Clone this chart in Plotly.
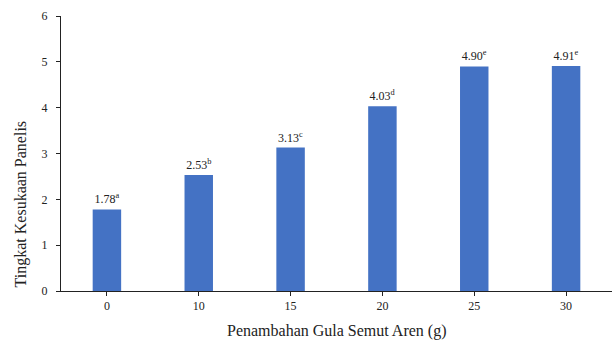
import plotly.graph_objects as go

categories = ["0", "10", "15", "20", "25", "30"]
values = [1.78, 2.53, 3.13, 4.03, 4.90, 4.91]
letters = ["a", "b", "c", "d", "e", "e"]
labels = [f"{v:.2f}<sup>{l}</sup>" for v, l in zip(values, letters)]
x_title = "Penambahan Gula Semut Aren (g)"
y_title = "Tingkat Kesukaan Panelis"

fig = go.Figure(go.Bar(
    x=categories, y=values, text=labels, textposition="outside",
    textfont=dict(family="Liberation Serif", size=12, color="#222"),
    marker=dict(color="#4472C4", line=dict(width=0)),
    width=0.31, cliponaxis=False,
))

fig.update_layout(
    width=616, height=342, margin=dict(l=61, r=4, t=16, b=51),
    paper_bgcolor="white", plot_bgcolor="white", showlegend=False,
    font=dict(family="Liberation Serif", color="#222"),
    xaxis=dict(showline=True, linecolor="#222", linewidth=1, ticks="outside",
               ticklen=4, tickcolor="#222", tickfont=dict(size=12)),
    yaxis=dict(range=[0, 6], dtick=1, showline=True, linecolor="#222", linewidth=1,
               ticks="outside", ticklen=4, tickcolor="#222", showgrid=False,
               zeroline=False, tickfont=dict(size=12), ticklabelstandoff=6),
    annotations=[
        dict(text=x_title, xref="paper", yref="paper", x=0.5, y=-0.145,
             xanchor="center", yanchor="middle", showarrow=False,
             font=dict(size=16, family="Liberation Serif", color="#222")),
        dict(text=y_title, xref="paper", yref="paper", x=-0.072, y=0.316,
             xanchor="center", yanchor="middle", showarrow=False, textangle=-90,
             font=dict(size=16, family="Liberation Serif", color="#222")),
    ],
)

fig.write_html("out.html")
